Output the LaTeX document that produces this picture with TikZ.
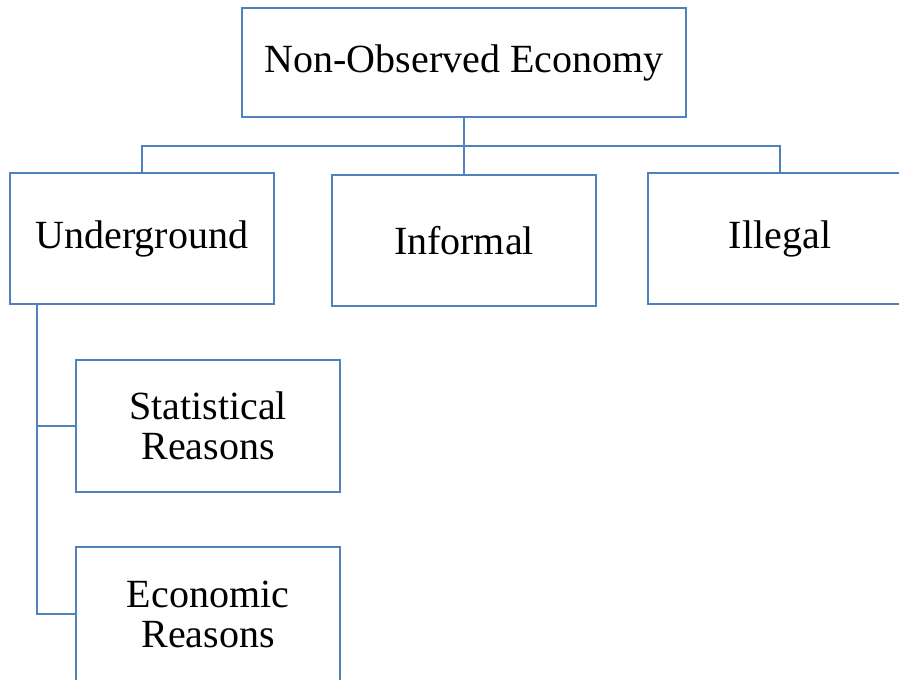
\documentclass[tikz,border=0pt]{standalone}
\usepackage{fontspec}
\setmainfont{Liberation Serif}
\definecolor{boxblue}{HTML}{4F81BD}
\begin{document}
\begin{tikzpicture}[x=0.75pt,y=-0.75pt,
  box/.style={draw=boxblue,line width=1.9pt,fill=white,rectangle,minimum width=264*0.75pt,minimum height=131*0.75pt,inner sep=0pt,align=center,font=\fontsize{30}{30}\selectfont},
  link/.style={draw=boxblue,line width=1.9pt}]
\useasboundingbox (0,0) rectangle (899,679);
\clip (0,0) rectangle (899,679);
\node[box,minimum width=444*0.75pt,minimum height=109*0.75pt] (noe) at (464,62.5) {Non-Observed Economy};
\node[box] (und) at (142,238.5) {Underground};
\node[box] (inf) at (464,240.5) {Informal};
\node[box] (ill) at (780,238.5) {Illegal};
\node[box,minimum height=132*0.75pt] (sta) at (208,426) {Statistical\\Reasons};
\node[box,minimum height=134*0.75pt] (eco) at (208,614) {Economic\\Reasons};
\coordinate (bus) at (464,146);
\draw[link] (noe.south) -- (bus);
\draw[link] (und.north) |- (bus) -| (ill.north);
\draw[link] (bus) -- (inf.north);
\coordinate (spine) at (37,0);
\draw[link] (und.south -| spine) |- (sta.west);
\draw[link] (und.south -| spine) |- (eco.west);
\end{tikzpicture}
\end{document}
